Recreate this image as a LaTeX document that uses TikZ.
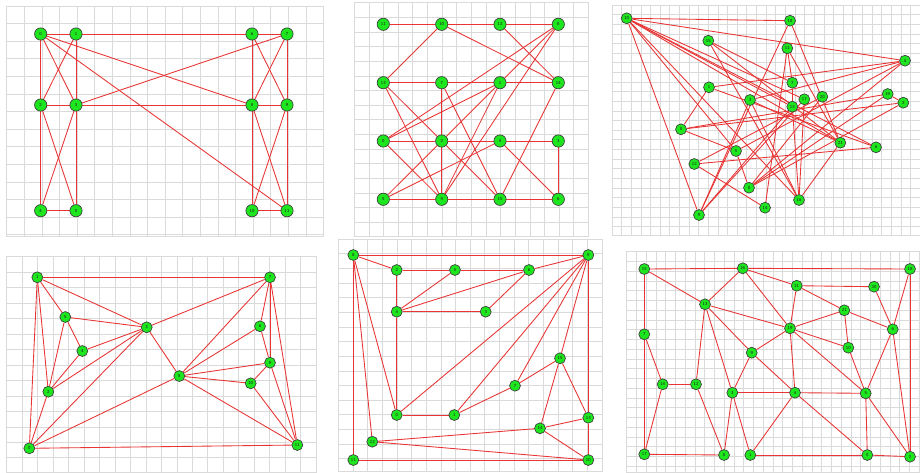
\documentclass[tikz,border=0pt]{standalone}
\usetikzlibrary{backgrounds}
\definecolor{gnode}{HTML}{1EE61E}
\definecolor{gedge}{HTML}{E83434}
\definecolor{gline}{HTML}{DADADA}
\definecolor{gink}{HTML}{1A1A1A}
\pgfdeclarelayer{paper}
\pgfsetlayers{paper,background,main}

% grid panel: #1 left, #2 top, #3 right, #4 bottom, #5 cell size (px)
\newcommand{\gridpanel}[5]{%
  \begin{pgfonlayer}{paper}
    \pgfmathtruncatemacro\gnx{(#3-#1)/#5}
    \pgfmathtruncatemacro\gny{(#4-#2)/#5}
    \foreach \gi in {0,...,\gnx}
      \draw[gridline] ({#1+\gi*#5},#2) -- ({#1+\gi*#5},#4);
    \foreach \gi in {0,...,\gny}
      \draw[gridline] (#1,{#2+\gi*#5}) -- (#3,{#2+\gi*#5});
    \draw[gridline] (#1,#2) rectangle (#3,#4);
  \end{pgfonlayer}}

\begin{document}
\begin{tikzpicture}[
  x=0.75pt, y=-0.75pt,
  gridline/.style = {draw=gline, line width=0.5pt},
  vtx/.style      = {circle, draw=gink!85, line width=0.5pt, fill=gnode,
                     minimum size=8.2pt, inner sep=0pt, text=gink,
                     font=\fontsize{3.4}{4}\selectfont\sffamily},
  bigvtx/.style   = {vtx, minimum size=9.2pt},
  link/.style     = {draw=gedge, line width=0.65pt},
]
\useasboundingbox (0,0) rectangle (920,472);

% ============================ panel 1: two H-shaped blocks =================
\gridpanel{6.7}{6}{323}{236}{17.6}
\foreach \n/\x/\y in {0/40.7/34, 1/76/34, 6/252/34, 7/287/34,
                      2/40.7/105, 3/76/105, 8/252/105, 9/287/105,
                      4/40.7/210.7, 5/76/210.7, 10/252/210.7, 11/287/210.7}
  \node[bigvtx] (a\n) at (\x,\y) {\n};
\begin{scope}[on background layer]
  \foreach \u/\v in {0/1, 1/6, 6/7, 0/2, 2/4, 1/3, 3/5, 6/8, 8/10, 7/9, 9/11,
                     0/3, 1/2, 0/8, 0/11, 3/7, 2/3, 3/8, 8/9, 4/5, 10/11,
                     2/5, 3/4, 6/9, 7/8, 8/11, 9/10}
    \draw[link] (a\u) -- (a\v);
\end{scope}

% ============================ panel 2: 4 x 4 lattice =======================
\gridpanel{354.3}{2.7}{588.3}{236}{14.63}
\foreach \n/\x/\y in {11/383.3/24.3, 10/441.7/24.3, 12/500/24.3, 8/558.3/24.3,
                      13/383.3/82.7, 7/441.7/82.7, 1/500/82.7, 14/558.3/82.7,
                      0/383.3/141, 2/441.7/141, 4/500/141, 3/558.3/141,
                      5/383.3/199.3, 9/441.7/199.3, 15/500/199.3, 6/558.3/199.3}
  \node[bigvtx] (b\n) at (\x,\y) {\n};
\begin{scope}[on background layer]
  \foreach \u/\v in {11/10, 10/12, 12/8, 10/13, 10/14, 12/14, 13/7, 7/1, 1/14,
                     0/2, 2/4, 4/3, 5/9, 9/15, 15/6, 3/6, 7/2, 2/9, 13/2,
                     2/15, 13/9, 7/15, 0/9, 0/8, 0/1, 4/6, 5/4, 5/2, 2/1,
                     1/8, 9/1, 9/8, 15/14}
    \draw[link] (b\u) -- (b\v);
\end{scope}

% ============================ panel 3: random layout =======================
\gridpanel{612}{5}{920}{235}{9.63}
\foreach \n/\x/\y in {10/626.7/18.3, 18/790/20.7, 15/708.3/40.7, 11/787.3/48.3,
                      4/905/60.7, 7/792.3/82.7, 1/709/87.3, 3/750/100,
                      17/804.3/99.3, 20/822.3/96.7, 19/887.7/94, 2/903.3/102.7,
                      13/792.3/106.7, 8/681/129.3, 21/840.3/142.7, 6/876/147.3,
                      5/736/151, 12/694.3/164, 0/749/187.7, 16/799/200,
                      14/765/207.7, 9/699/215}
  \node[vtx] (c\n) at (\x,\y) {\n};
\begin{scope}[on background layer]
  \foreach \u/\v in {10/18, 10/4, 10/13, 10/17, 10/21, 10/6, 10/5, 10/16, 10/9,
                     18/9, 18/21, 15/7, 15/16, 15/21, 11/14, 11/7, 11/21,
                     4/1, 4/3, 4/5, 4/0, 1/8, 1/6, 3/16, 3/9, 3/21,
                     8/19, 8/2, 8/5, 12/6, 12/14, 12/20, 5/0, 0/19, 0/2,
                     0/20, 9/13, 9/17, 16/17, 16/13, 16/21, 7/13, 19/2}
    \draw[link] (c\u) -- (c\v);
\end{scope}

% ============================ panel 4: two fans ============================
\gridpanel{6.7}{256.7}{316}{472}{15.47}
\foreach \n/\x/\y in {1/37.3/277.3, 7/270/277.3, 5/65.3/317, 3/146.7/327.3,
                      6/260/326.3, 4/82.3/351, 9/270/362.7, 8/179.3/376,
                      10/250.7/383.3, 2/48.3/391.7, 0/29.3/448.3, 11/297.3/445}
  \node[vtx] (d\n) at (\x,\y) {\n};
\begin{scope}[on background layer]
  \foreach \u/\v in {1/7, 1/5, 1/3, 1/2, 1/0, 5/3, 5/4, 5/2, 4/3, 4/2, 2/3,
                     2/0, 0/3, 0/8, 0/11, 3/7, 3/8, 7/6, 7/8, 7/9, 7/11,
                     6/8, 6/9, 9/8, 9/10, 9/11, 8/10, 8/11, 10/11}
    \draw[link] (d\u) -- (d\v);
\end{scope}

% ============================ panel 5: framed spiral =======================
\gridpanel{338.3}{239}{602}{471}{14.65}
\foreach \n/\x/\y in {8/353.3/255, 9/588.3/255, 2/396.7/270, 5/455/270,
                      6/529/270, 4/396.7/311.7, 3/485.7/311.7, 15/560/358.3,
                      7/515/385.7, 0/396.7/415, 1/454.3/415, 13/588.3/417.7,
                      14/540/428.3, 12/372.3/441.7, 11/353.3/460, 10/588.3/460}
  \node[vtx] (e\n) at (\x,\y) {\n};
\begin{scope}[on background layer]
  \foreach \u/\v in {8/9, 8/2, 8/0, 8/12, 8/11, 2/5, 5/6, 2/4, 6/9, 5/4,
                     6/4, 6/3, 4/3, 4/0, 0/1, 0/9, 1/9, 1/7, 7/9, 7/15,
                     15/9, 15/14, 15/13, 9/13, 13/10, 13/14, 14/12, 14/10,
                     12/10, 11/10}
    \draw[link] (e\u) -- (e\v);
\end{scope}

% ============================ panel 6: planar mesh =========================
\gridpanel{626.7}{251.7}{920}{472}{9.75}
\foreach \n/\x/\y in {15/644.3/269, 16/742.7/268.3, 18/910/269, 11/796.7/285.7,
                      20/874/286.7, 13/705/304.3, 21/844.3/310.3, 19/790/328.3,
                      6/892.7/329.3, 7/644.3/334.3, 10/848.3/347.7, 9/751.7/352.7,
                      14/662.7/384.3, 12/696/384.3, 3/732.3/392.7, 4/795/392.7,
                      5/865.7/393.3, 17/644.3/454.3, 8/724/455, 1/750.3/455,
                      0/867.3/455, 2/910/456.7}
  \node[vtx] (f\n) at (\x,\y) {\n};
\begin{scope}[on background layer]
  \foreach \u/\v in {15/16, 16/18, 15/13, 15/7, 7/17, 7/14, 14/17, 14/12,
                     12/13, 12/8, 17/8, 16/13, 16/11, 16/19, 11/20, 11/21,
                     11/19, 13/19, 13/9, 13/3, 21/19, 21/6, 21/10, 20/6,
                     18/6, 18/2, 19/9, 19/10, 19/4, 19/5, 9/3, 9/4, 3/4,
                     4/5, 3/8, 3/1, 4/1, 4/0, 1/0, 0/2, 10/5, 6/5, 6/2,
                     5/0, 5/2}
    \draw[link] (f\u) -- (f\v);
\end{scope}
\end{tikzpicture}
\end{document}
